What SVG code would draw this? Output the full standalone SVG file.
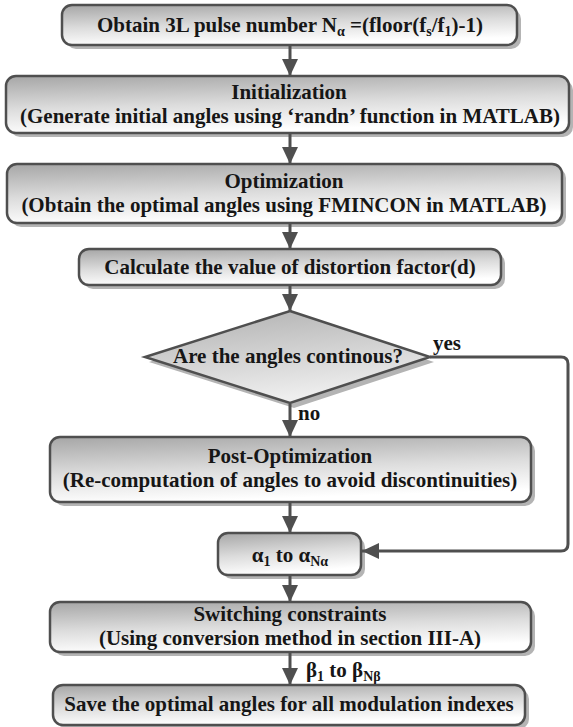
<svg xmlns="http://www.w3.org/2000/svg" width="573" height="727" viewBox="0 0 573 727">
<style>
.box{fill:url(#g);stroke:#4f4f4f;stroke-width:2.5}
.sh{fill:#b4b4b4}
text{font-family:'Liberation Serif','DejaVu Serif',serif;font-weight:700;font-size:21px;fill:#161616}
.t{text-anchor:middle}
.c{fill:none;stroke:#4f4f4f;stroke-width:3;marker-end:url(#ah)}
.sub{font-size:14px}
</style>
<defs>
<linearGradient id="g" x1="0" y1="0" x2="0.25" y2="1">
<stop offset="0" stop-color="#a6a6a6"/>
<stop offset="0.55" stop-color="#dcdcdc"/>
<stop offset="1" stop-color="#ffffff"/>
</linearGradient>
<linearGradient id="gd" x1="0" y1="0" x2="0.3" y2="1">
<stop offset="0" stop-color="#b0b0b0"/>
<stop offset="1" stop-color="#eeeeee"/>
</linearGradient>
<marker id="ah" markerUnits="userSpaceOnUse" markerWidth="18" markerHeight="16" refX="17" refY="8" orient="auto">
<path d="M0,0 L17,8 L0,16 Z" fill="#4f4f4f"/>
</marker>
</defs>

<g id="n1">
<rect class="sh" x="66" y="9" width="455" height="40" rx="10"/>
<rect class="box" x="62" y="5" width="455" height="40" rx="10"/>
<text class="t" x="290" y="32">Obtain 3L pulse number N<tspan class="sub" dy="4">α</tspan><tspan dy="-4"> =(floor(f</tspan><tspan class="sub" dy="4">s</tspan><tspan dy="-4">/f</tspan><tspan class="sub" dy="4">1</tspan><tspan dy="-4">)-1)</tspan></text>
</g>

<g id="n2">
<rect class="sh" x="10" y="80" width="563" height="57" rx="10"/>
<rect class="box" x="6" y="76" width="563" height="57" rx="10"/>
<text class="t" x="289" y="99">Initialization</text>
<text class="t" x="290" y="123">(Generate initial angles using ‘randn’ function in MATLAB)</text>
</g>

<g id="n3">
<rect class="sh" x="11" y="168" width="555" height="59" rx="10"/>
<rect class="box" x="7" y="164" width="555" height="59" rx="10"/>
<text class="t" x="284" y="188">Optimization</text>
<text class="t" x="284" y="212">(Obtain the optimal angles using FMINCON in MATLAB)</text>
</g>

<g id="n4">
<rect class="sh" x="83" y="253" width="422" height="36" rx="10"/>
<rect class="box" x="79" y="249" width="422" height="36" rx="10"/>
<text class="t" x="290" y="274">Calculate the value of distortion factor(d)</text>
</g>

<g id="n5">
<polygon points="294,316 434,362 294,408 149,362" fill="#b4b4b4"/>
<polygon points="290,311 430,357 290,403 145,357" fill="url(#gd)" stroke="#4f4f4f" stroke-width="2.5"/>
<text class="t" x="288" y="363">Are the angles continous?</text>
</g>

<g id="n6">
<rect class="sh" x="54" y="441" width="481" height="65" rx="10"/>
<rect class="box" x="50" y="437" width="481" height="65" rx="10"/>
<text class="t" x="290" y="463">Post-Optimization</text>
<text class="t" x="290" y="487">(Re-computation of angles to avoid discontinuities)</text>
</g>

<g id="n7">
<rect class="sh" x="222" y="537" width="143" height="42" rx="10"/>
<rect class="box" x="218" y="533" width="143" height="42" rx="10"/>
<text class="t" x="290" y="562">α<tspan class="sub" dy="4">1</tspan><tspan dy="-4"> to α</tspan><tspan class="sub" dy="4">Nα</tspan></text>
</g>

<g id="n8">
<rect class="sh" x="54" y="606" width="481" height="50" rx="10"/>
<rect class="box" x="50" y="602" width="481" height="50" rx="10"/>
<text class="t" x="290" y="621">Switching constraints</text>
<text class="t" x="290" y="645">(Using conversion method in section III-A)</text>
</g>

<g id="n9">
<rect class="sh" x="57" y="689" width="472" height="40" rx="10"/>
<rect class="box" x="53" y="685" width="472" height="40" rx="10"/>
<text class="t" x="289" y="711">Save the optimal angles for all modulation indexes</text>
</g>

<g id="connectors">
<line class="c" x1="290" y1="46" x2="290" y2="76"/>
<line class="c" x1="290" y1="134" x2="290" y2="164"/>
<line class="c" x1="290" y1="224" x2="290" y2="249"/>
<line class="c" x1="290" y1="286" x2="290" y2="311"/>
<line class="c" x1="290" y1="404" x2="290" y2="437"/>
<line class="c" x1="290" y1="503" x2="290" y2="533"/>
<line class="c" x1="290" y1="576" x2="290" y2="602"/>
<line class="c" x1="290" y1="653" x2="290" y2="685"/>
<path class="c" d="M430,357 H561 Q568,357 568,364 V544 Q568,551 561,551 H362"/>
<text x="433" y="350">yes</text>
<text x="298" y="420">no</text>
<text x="306" y="677">β<tspan class="sub" dy="4">1</tspan><tspan dy="-4"> to β</tspan><tspan class="sub" dy="4">Nβ</tspan></text>
</g>
</svg>
